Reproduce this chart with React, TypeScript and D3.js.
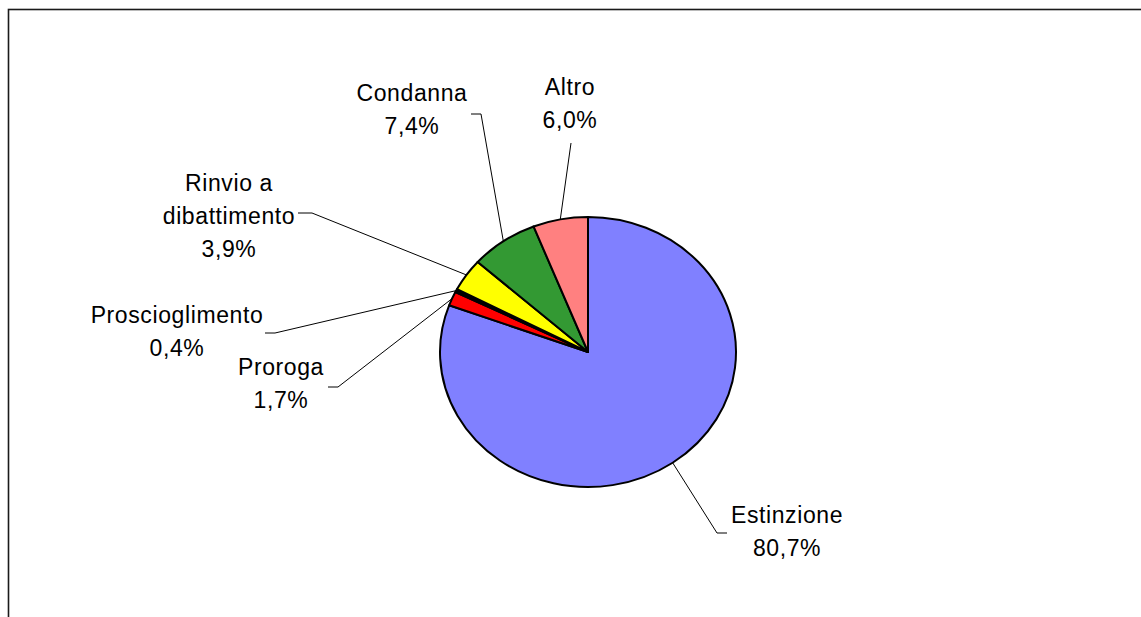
import React from "react";
import * as d3 from "d3";

// Outcome categories and their shares (percent), clockwise from 12 o'clock
const categories = ["Estinzione", "Proroga", "Proscioglimento", "Rinvio a dibattimento", "Condanna", "Altro"];
const shares = [80.7, 1.7, 0.4, 3.9, 7.4, 6.0];
const labelLines = [["Estinzione"], ["Proroga"], ["Proscioglimento"], ["Rinvio a", "dibattimento"], ["Condanna"], ["Altro"]];
const sliceColors = ["#8080FF", "#FF0000", "#000000", "#FFFF00", "#339933", "#FF8080"];

// Label placement: text block centre x, first baseline y, leader elbow and leader end
const labelLayout: Record<string, { x: number; y: number; elbow: [number, number]; end: [number, number] }> = {
  Estinzione: { x: 787, y: 523, elbow: [717, 533], end: [727, 533] },
  Proroga: { x: 281, y: 375, elbow: [338, 387], end: [328, 387] },
  Proscioglimento: { x: 177, y: 323, elbow: [275, 333], end: [265, 333] },
  "Rinvio a dibattimento": { x: 229, y: 191, elbow: [312, 213], end: [298, 213] },
  Condanna: { x: 412, y: 101, elbow: [481, 114], end: [471, 114] },
  Altro: { x: 570, y: 95, elbow: [571, 143], end: [571, 143] },
};

const W = 1141;
const H = 617;
const cx = 588;
const cy = 352;
const rx = 148;
const ry = 135;
const lineGap = 33;

export default function App() {
  const data = categories.map((c, i) => ({ name: c, value: shares[i], color: sliceColors[i], lines: labelLines[i] }));
  const pie = d3.pie<(typeof data)[number]>().value((d) => d.value).sort(null).startAngle(0).endAngle(2 * Math.PI);
  const arcs = pie(data);
  const arc = d3.arc<d3.PieArcDatum<(typeof data)[number]>>().innerRadius(0).outerRadius(rx);
  const fmt = (v: number) => v.toFixed(1).replace(".", ",") + "%";

  return (
    <svg
      width={W}
      height={H}
      style={{ position: "absolute", left: 0, top: 0, background: "#fff" }}
      fontFamily="'Liberation Sans', Arial, sans-serif"
    >
      <rect x={8.5} y={9.5} width={1300} height={800} fill="#fff" stroke="#1a1a1a" strokeWidth={1.6} />
      {/* leader lines */}
      {arcs.map((a) => {
        const mid = (a.startAngle + a.endAngle) / 2;
        const px = cx + rx * Math.sin(mid);
        const py = cy - ry * Math.cos(mid);
        const L = labelLayout[a.data.name];
        const path = d3.path();
        path.moveTo(px, py);
        path.lineTo(L.elbow[0], L.elbow[1]);
        path.lineTo(L.end[0], L.end[1]);
        return <path key={"l" + a.data.name} d={path.toString()} fill="none" stroke="#000" strokeWidth={1} />;
      })}
      <g transform={`translate(${cx},${cy}) scale(1,${ry / rx})`}>
        {arcs.map((a) => (
          <path
            key={a.data.name}
            d={arc(a) || ""}
            fill={a.data.color}
            stroke="#000"
            strokeWidth={2}
            strokeLinejoin="round"
            vectorEffect="non-scaling-stroke"
          />
        ))}
      </g>
      {/* labels */}
      {arcs.map((a) => {
        const L = labelLayout[a.data.name];
        const lines = [...a.data.lines, fmt(a.data.value)];
        return (
          <text key={"t" + a.data.name} fontSize={23} letterSpacing={0.6} textAnchor="middle" fill="#000">
            {lines.map((ln, i) => (
              <tspan key={i} x={L.x} y={L.y + i * lineGap}>
                {ln}
              </tspan>
            ))}
          </text>
        );
      })}
    </svg>
  );
}
